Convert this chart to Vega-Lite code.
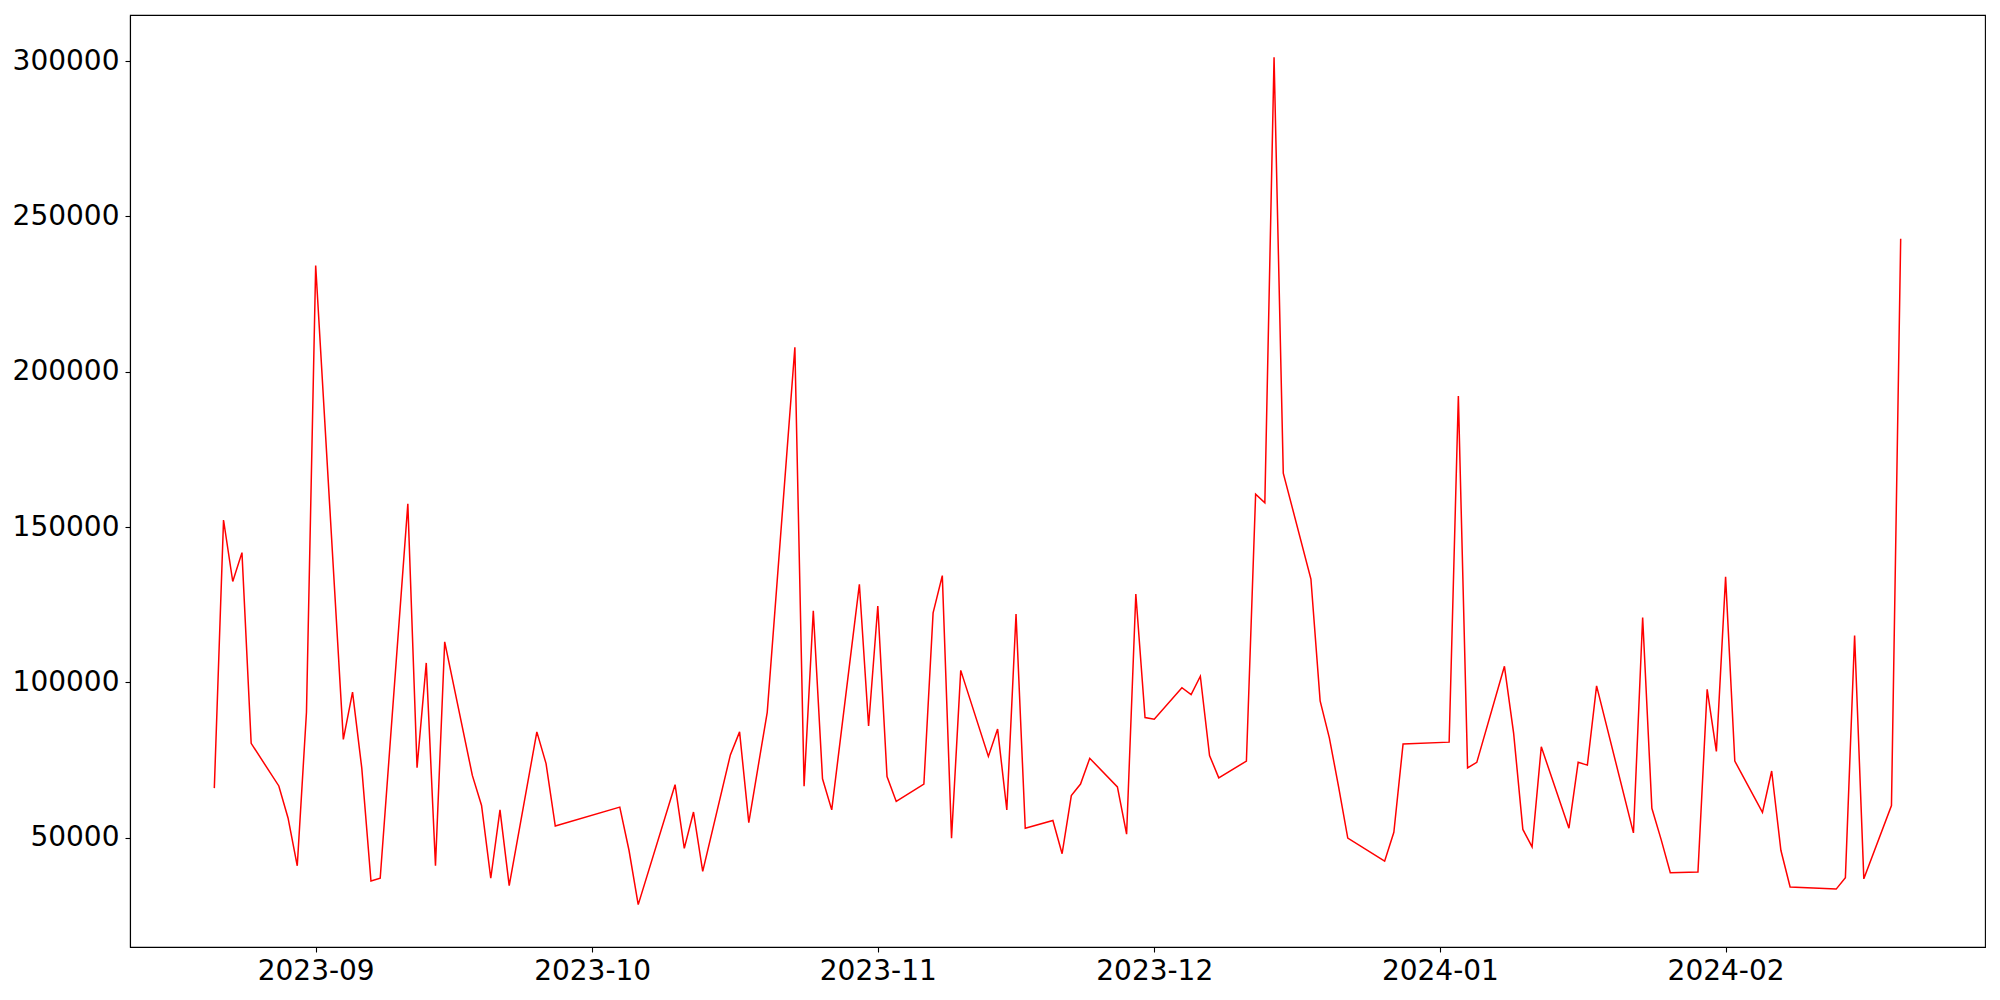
{
  "$schema": "https://vega.github.io/schema/vega-lite/v6.json",
  "width": 1855,
  "height": 932,
  "autosize": {"type": "none"},
  "padding": {"left": 130, "top": 15, "right": 15, "bottom": 53},
  "background": "white",
  "config": {
    "view": {"stroke": "black", "strokeWidth": 1.1},
    "axis": {"grid": false}
  },
  "data": {
    "values": [
      {"date": "2023-08-21", "value": 66000},
      {"date": "2023-08-22", "value": 152300},
      {"date": "2023-08-23", "value": 132500},
      {"date": "2023-08-24", "value": 141800},
      {"date": "2023-08-25", "value": 80400},
      {"date": "2023-08-28", "value": 66700},
      {"date": "2023-08-29", "value": 56400},
      {"date": "2023-08-30", "value": 41000},
      {"date": "2023-08-31", "value": 90400},
      {"date": "2023-09-01", "value": 234200},
      {"date": "2023-09-04", "value": 81700},
      {"date": "2023-09-05", "value": 96900},
      {"date": "2023-09-06", "value": 72500},
      {"date": "2023-09-07", "value": 36100},
      {"date": "2023-09-08", "value": 37000},
      {"date": "2023-09-11", "value": 157500},
      {"date": "2023-09-12", "value": 72600},
      {"date": "2023-09-13", "value": 106300},
      {"date": "2023-09-14", "value": 41000},
      {"date": "2023-09-15", "value": 113100},
      {"date": "2023-09-18", "value": 70100},
      {"date": "2023-09-19", "value": 60400},
      {"date": "2023-09-20", "value": 37000},
      {"date": "2023-09-21", "value": 59000},
      {"date": "2023-09-22", "value": 34600},
      {"date": "2023-09-25", "value": 84100},
      {"date": "2023-09-26", "value": 73900},
      {"date": "2023-09-27", "value": 53800},
      {"date": "2023-10-04", "value": 59900},
      {"date": "2023-10-05", "value": 46000},
      {"date": "2023-10-06", "value": 28500},
      {"date": "2023-10-10", "value": 67100},
      {"date": "2023-10-11", "value": 46600},
      {"date": "2023-10-12", "value": 58300},
      {"date": "2023-10-13", "value": 39200},
      {"date": "2023-10-16", "value": 76700},
      {"date": "2023-10-17", "value": 84100},
      {"date": "2023-10-18", "value": 54900},
      {"date": "2023-10-19", "value": 72700},
      {"date": "2023-10-20", "value": 90400},
      {"date": "2023-10-23", "value": 207900},
      {"date": "2023-10-24", "value": 66600},
      {"date": "2023-10-25", "value": 123100},
      {"date": "2023-10-26", "value": 69000},
      {"date": "2023-10-27", "value": 59000},
      {"date": "2023-10-30", "value": 131600},
      {"date": "2023-10-31", "value": 86000},
      {"date": "2023-11-01", "value": 124600},
      {"date": "2023-11-02", "value": 69700},
      {"date": "2023-11-03", "value": 61700},
      {"date": "2023-11-06", "value": 67300},
      {"date": "2023-11-07", "value": 122400},
      {"date": "2023-11-08", "value": 134400},
      {"date": "2023-11-09", "value": 49900},
      {"date": "2023-11-10", "value": 103900},
      {"date": "2023-11-13", "value": 76200},
      {"date": "2023-11-14", "value": 85000},
      {"date": "2023-11-15", "value": 59000},
      {"date": "2023-11-16", "value": 122000},
      {"date": "2023-11-17", "value": 53100},
      {"date": "2023-11-20", "value": 55600},
      {"date": "2023-11-21", "value": 44900},
      {"date": "2023-11-22", "value": 63600},
      {"date": "2023-11-23", "value": 67300},
      {"date": "2023-11-24", "value": 75600},
      {"date": "2023-11-27", "value": 66400},
      {"date": "2023-11-28", "value": 51200},
      {"date": "2023-11-29", "value": 128500},
      {"date": "2023-11-30", "value": 88700},
      {"date": "2023-12-01", "value": 88200},
      {"date": "2023-12-04", "value": 98300},
      {"date": "2023-12-05", "value": 96100},
      {"date": "2023-12-06", "value": 102000},
      {"date": "2023-12-07", "value": 76500},
      {"date": "2023-12-08", "value": 69300},
      {"date": "2023-12-11", "value": 74700},
      {"date": "2023-12-12", "value": 160600},
      {"date": "2023-12-13", "value": 157800},
      {"date": "2023-12-14", "value": 301200},
      {"date": "2023-12-15", "value": 167400},
      {"date": "2023-12-18", "value": 133300},
      {"date": "2023-12-19", "value": 94100},
      {"date": "2023-12-20", "value": 82200},
      {"date": "2023-12-21", "value": 66500},
      {"date": "2023-12-22", "value": 49900},
      {"date": "2023-12-26", "value": 42500},
      {"date": "2023-12-27", "value": 51800},
      {"date": "2023-12-28", "value": 80200},
      {"date": "2024-01-02", "value": 80800},
      {"date": "2024-01-03", "value": 192200},
      {"date": "2024-01-04", "value": 72500},
      {"date": "2024-01-05", "value": 74300},
      {"date": "2024-01-08", "value": 105200},
      {"date": "2024-01-09", "value": 83600},
      {"date": "2024-01-10", "value": 52700},
      {"date": "2024-01-11", "value": 47100},
      {"date": "2024-01-12", "value": 79300},
      {"date": "2024-01-15", "value": 53100},
      {"date": "2024-01-16", "value": 74300},
      {"date": "2024-01-17", "value": 73400},
      {"date": "2024-01-18", "value": 98900},
      {"date": "2024-01-22", "value": 51600},
      {"date": "2024-01-23", "value": 120900},
      {"date": "2024-01-24", "value": 59500},
      {"date": "2024-01-25", "value": 49500},
      {"date": "2024-01-26", "value": 38800},
      {"date": "2024-01-29", "value": 39000},
      {"date": "2024-01-30", "value": 97800},
      {"date": "2024-01-31", "value": 77800},
      {"date": "2024-02-01", "value": 134000},
      {"date": "2024-02-02", "value": 74700},
      {"date": "2024-02-05", "value": 58200},
      {"date": "2024-02-06", "value": 71500},
      {"date": "2024-02-07", "value": 46000},
      {"date": "2024-02-08", "value": 34200},
      {"date": "2024-02-13", "value": 33500},
      {"date": "2024-02-14", "value": 37200},
      {"date": "2024-02-15", "value": 115100},
      {"date": "2024-02-16", "value": 36800},
      {"date": "2024-02-19", "value": 60400},
      {"date": "2024-02-20", "value": 242800}
    ]
  },
  "mark": {"type": "line", "color": "#ff0000", "strokeWidth": 1.5},
  "encoding": {
    "x": {
      "field": "date",
      "type": "temporal",
      "scale": {
        "type": "utc",
        "domain": [
          {"year": 2023, "month": 8, "date": 11, "hours": 20, "minutes": 24, "utc": true},
          {"year": 2024, "month": 2, "date": 29, "hours": 3, "minutes": 36, "utc": true}
        ]
      },
      "axis": {
        "title": null,
        "format": "%Y-%m",
        "values": [
          {"year": 2023, "month": 9, "date": 1, "utc": true},
          {"year": 2023, "month": 10, "date": 1, "utc": true},
          {"year": 2023, "month": 11, "date": 1, "utc": true},
          {"year": 2023, "month": 12, "date": 1, "utc": true},
          {"year": 2024, "month": 1, "date": 1, "utc": true},
          {"year": 2024, "month": 2, "date": 1, "utc": true}
        ],
        "labelFont": "DejaVu Sans",
        "labelFontSize": 28,
        "labelColor": "black",
        "labelAngle": 0,
        "labelFlush": false,
        "labelOverlap": false,
        "labelPadding": 5,
        "tickColor": "black",
        "tickSize": 5,
        "tickWidth": 1.1,
        "domainColor": "black",
        "domainWidth": 1.1
      }
    },
    "y": {
      "field": "value",
      "type": "quantitative",
      "scale": {"domain": [14865, 314835], "nice": false, "zero": false},
      "axis": {
        "title": null,
        "values": [50000, 100000, 150000, 200000, 250000, 300000],
        "format": "d",
        "labelFont": "DejaVu Sans",
        "labelFontSize": 28,
        "labelColor": "black",
        "labelPadding": 6,
        "tickColor": "black",
        "tickSize": 5,
        "tickWidth": 1.1,
        "domainColor": "black",
        "domainWidth": 1.1
      }
    }
  }
}
